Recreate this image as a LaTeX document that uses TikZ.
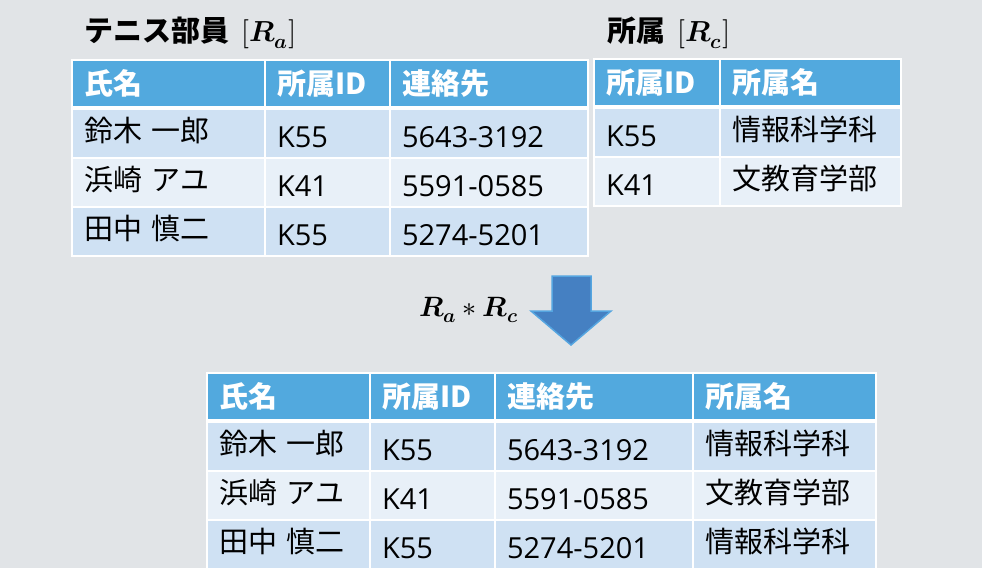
\documentclass[tikz,border=0pt]{standalone}
\usepackage{amsmath}
\usepackage{fontspec}
\usepackage{unicode-math}
\setmainfont{Open Sans}
\setmathfont{Latin Modern Math}
\newfontfamily\jp{Noto Sans CJK JP}
\usetikzlibrary{positioning,backgrounds}

\definecolor{bgc}{HTML}{E1E4E7}
\definecolor{hdr}{HTML}{52A9DE}
\definecolor{rowa}{HTML}{CFE1F3}
\definecolor{rowb}{HTML}{E8F0F8}
\definecolor{arrfill}{HTML}{4580C2}
\definecolor{arredge}{HTML}{55A5E0}

\newcommand{\rel}[1]{\symbfit{R}_{\symbfit{#1}}}

\begin{document}
\begin{tikzpicture}[x=1pt,y=-1pt,
    cell/.style={draw=white,line width=2pt,outer sep=0pt,inner xsep=12pt,inner ysep=0pt,align=left,minimum height=49pt},
    hd/.style={cell,fill=hdr,text=white,minimum height=47pt,font=\jp\bfseries\fontsize{29}{34}\selectfont,text height=23pt,text depth=2pt},
    ra/.style={cell,fill=rowa},
    rb/.style={cell,fill=rowb},
    tx/.style={font=\fontsize{29}{34}\selectfont,text height=30pt,text depth=3pt},
    jx/.style={font=\jp\fontsize{29}{34}\selectfont,text height=25pt,text depth=9pt},
    ttl/.style={font=\jp\bfseries\fontsize{29}{34}\selectfont,inner sep=0pt}]

  \useasboundingbox (0,0) rectangle (982,568);
  \clip (0,0) rectangle (982,568);

  % titles
  \node[ttl,anchor=base west] (ta) at (84,41) {テニス部員\hspace{12pt}\fontsize{29}{34}\selectfont$[\rel{a}]$};
  \node[ttl,anchor=base west] (tc) at (607,41) {所属\hspace{12pt}\fontsize{29}{34}\selectfont$[\rel{c}]$};

  % Ra
  \node[hd,text width=169pt,anchor=north west] (a11) at (72,60) {氏名};
  \node[hd,text width=101pt,right=0pt of a11] (a12) {所属ID};
  \node[hd,text width=174pt,right=0pt of a12] (a13) {連絡先};
  \node[ra,jx,text width=169pt,below=2pt of a11] (a21) {鈴木 一郎};
  \node[ra,tx,text width=101pt,right=0pt of a21] (a22) {K55};
  \node[ra,tx,text width=174pt,right=0pt of a22] (a23) {5643-3192};
  \node[rb,jx,text width=169pt,below=0pt of a21] (a31) {浜崎 アユ};
  \node[rb,tx,text width=101pt,right=0pt of a31] (a32) {K41};
  \node[rb,tx,text width=174pt,right=0pt of a32] (a33) {5591-0585};
  \node[ra,jx,text width=169pt,below=0pt of a31] (a41) {田中 慎二};
  \node[ra,tx,text width=101pt,right=0pt of a41] (a42) {K55};
  \node[ra,tx,text width=174pt,right=0pt of a42] (a43) {5274-5201};

  % Rc
  \node[hd,text width=102pt,anchor=north west] (c11) at (594,59) {所属ID};
  \node[hd,text width=157pt,right=0pt of c11] (c12) {所属名};
  \node[ra,tx,text width=102pt,below=2pt of c11] (c21) {K55};
  \node[ra,jx,text width=157pt,right=0pt of c21] (c22) {情報科学科};
  \node[rb,tx,text width=102pt,below=0pt of c21] (c31) {K41};
  \node[rb,jx,text width=157pt,right=0pt of c31] (c32) {文教育学部};

  % Ra*Rc
  \node[hd,text width=139pt,anchor=north west] (j11) at (207,373) {氏名};
  \node[hd,text width=101pt,right=0pt of j11] (j12) {所属ID};
  \node[hd,text width=174pt,right=0pt of j12] (j13) {連絡先};
  \node[hd,text width=159pt,right=0pt of j13] (j14) {所属名};
  \node[ra,jx,text width=139pt,below=2pt of j11] (j21) {鈴木 一郎};
  \node[ra,tx,text width=101pt,right=0pt of j21] (j22) {K55};
  \node[ra,tx,text width=174pt,right=0pt of j22] (j23) {5643-3192};
  \node[ra,jx,text width=159pt,right=0pt of j23] (j24) {情報科学科};
  \node[rb,jx,text width=139pt,below=0pt of j21] (j31) {浜崎 アユ};
  \node[rb,tx,text width=101pt,right=0pt of j31] (j32) {K41};
  \node[rb,tx,text width=174pt,right=0pt of j32] (j33) {5591-0585};
  \node[rb,jx,text width=159pt,right=0pt of j33] (j34) {文教育学部};
  \node[ra,jx,text width=139pt,below=0pt of j31] (j41) {田中 慎二};
  \node[ra,tx,text width=101pt,right=0pt of j41] (j42) {K55};
  \node[ra,tx,text width=174pt,right=0pt of j42] (j43) {5274-5201};
  \node[ra,jx,text width=159pt,right=0pt of j43] (j44) {情報科学科};

  % arrow
  \node[inner sep=0pt,anchor=base west,font=\fontsize{28}{32}\selectfont] (op) at (419,316) {$\rel{a} \ast \rel{c}$};
  \draw[fill=arrfill,draw=arredge,line width=1.5pt,line join=miter]
    (552,276) -- (591,276) -- (591,311) -- (611,311) -- (571,345) -- (531,311) -- (552,311) -- cycle;

  \begin{scope}[on background layer]
    \fill[bgc] (0,0) rectangle (982,568);
    \fill[white] (a11.north west) rectangle (a43.south east);
    \fill[white] (c11.north west) rectangle (c32.south east);
    \fill[white] (j11.north west) rectangle (j44.south east);
  \end{scope}
\end{tikzpicture}
\end{document}
